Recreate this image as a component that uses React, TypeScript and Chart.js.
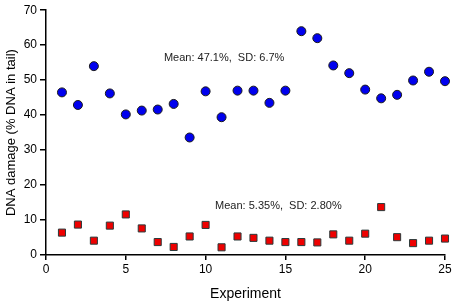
import React, { useEffect, useRef } from "react";
import { Chart, registerables } from "chart.js";

Chart.register(...registerables);

const experiments = [1,2,3,4,5,6,7,8,9,10,11,12,13,14,15,16,17,18,19,20,21,22,23,24,25];
const tailDnaHigh = [46.5,42.9,54.0,46.2,40.2,41.3,41.6,43.2,33.6,46.8,39.4,47.0,47.0,43.5,47.0,64.0,62.0,54.2,52.0,47.3,44.8,45.8,49.9,52.4,49.7];
const tailDnaLow = [6.4,8.7,4.1,8.4,11.6,7.6,3.7,2.3,5.3,8.6,2.2,5.3,4.9,4.1,3.7,3.7,3.6,5.9,4.1,6.1,13.7,5.1,3.4,4.1,4.7];
const xTicks = [0,5,10,15,20,25];
const yTicks = [0,10,20,30,40,50,60,70];
const annotationTexts = ["Mean: 47.1%,  SD: 6.7%", "Mean: 5.35%,  SD: 2.80%"];
const annotationX = [11.16, 14.56];
const annotationY = [56.3, 14.1];

const FONT = "'Liberation Sans', Arial, sans-serif";

export default function App() {
  const ref = useRef<HTMLCanvasElement | null>(null);
  useEffect(() => {
    document.body.style.margin = "0";
    if (!ref.current) return;
    const annot = {
      id: "annot",
      afterDatasetsDraw(chart: any) {
        const ctx = chart.ctx;
        const xs = chart.scales.x;
        const ys = chart.scales.y;
        ctx.save();
        ctx.font = `11px ${FONT}`;
        ctx.fillStyle = "#222";
        ctx.textAlign = "center";
        ctx.textBaseline = "middle";
        annotationTexts.forEach((t, i) => {
          ctx.fillText(t, xs.getPixelForValue(annotationX[i]), ys.getPixelForValue(annotationY[i]));
        });
        ctx.restore();
      },
    };
    const chart = new Chart(ref.current, {
      type: "scatter",
      data: {
        datasets: [
          {
            data: experiments.map((x, i) => ({ x, y: tailDnaHigh[i] })),
            pointStyle: "circle",
            pointRadius: 4.5,
            backgroundColor: "#0000ee",
            borderColor: "#1a1a1a",
            borderWidth: 1,
            clip: false,
          },
          {
            data: experiments.map((x, i) => ({ x, y: tailDnaLow[i] })),
            pointStyle: "rect",
            pointRadius: 5,
            backgroundColor: "#ee0000",
            borderColor: "#2a3a3a",
            borderWidth: 1,
            clip: false,
          },
        ],
      },
      options: {
        animation: false,
        responsive: false,
        layout: { padding: { top: 6, right: 9, left: 0, bottom: 0 } },
        plugins: { legend: { display: false }, tooltip: { enabled: false } },
        scales: {
          x: {
            type: "linear",
            min: 0,
            max: 25,
            afterBuildTicks: (s: any) => { s.ticks = xTicks.map((v) => ({ value: v })); },
            afterFit: (s: any) => { s.height = 50; },
            grid: { drawOnChartArea: false, drawTicks: true, tickLength: 5, color: "#000", lineWidth: 1.5 },
            border: { color: "#000", width: 1.5 },
            ticks: { color: "#000", font: { family: FONT, size: 12 }, padding: 2, maxRotation: 0 },
            title: { display: true, text: "Experiment", color: "#000", font: { family: FONT, size: 14 }, padding: { top: 4, bottom: 2 } },
          },
          y: {
            type: "linear",
            min: 0,
            max: 70,
            afterBuildTicks: (s: any) => { s.ticks = yTicks.map((v) => ({ value: v })); },
            afterFit: (s: any) => { s.width = 46; },
            grid: { drawOnChartArea: false, drawTicks: true, tickLength: 6, color: "#000", lineWidth: 1.5 },
            border: { color: "#000", width: 1.5 },
            ticks: { color: "#000", font: { family: FONT, size: 12 }, padding: 3 },
            title: { display: true, text: "DNA damage (% DNA in tail)", color: "#000", font: { family: FONT, size: 13 }, padding: { top: 4, bottom: 2 } },
          },
        },
      },
      plugins: [annot],
    });
    return () => chart.destroy();
  }, []);
  return (
    <div style={{ position: "absolute", left: 0, top: 0, width: 454, height: 305, background: "#fff" }}>
      <canvas ref={ref} width={454} height={305} style={{ width: 454, height: 305 }} />
    </div>
  );
}
